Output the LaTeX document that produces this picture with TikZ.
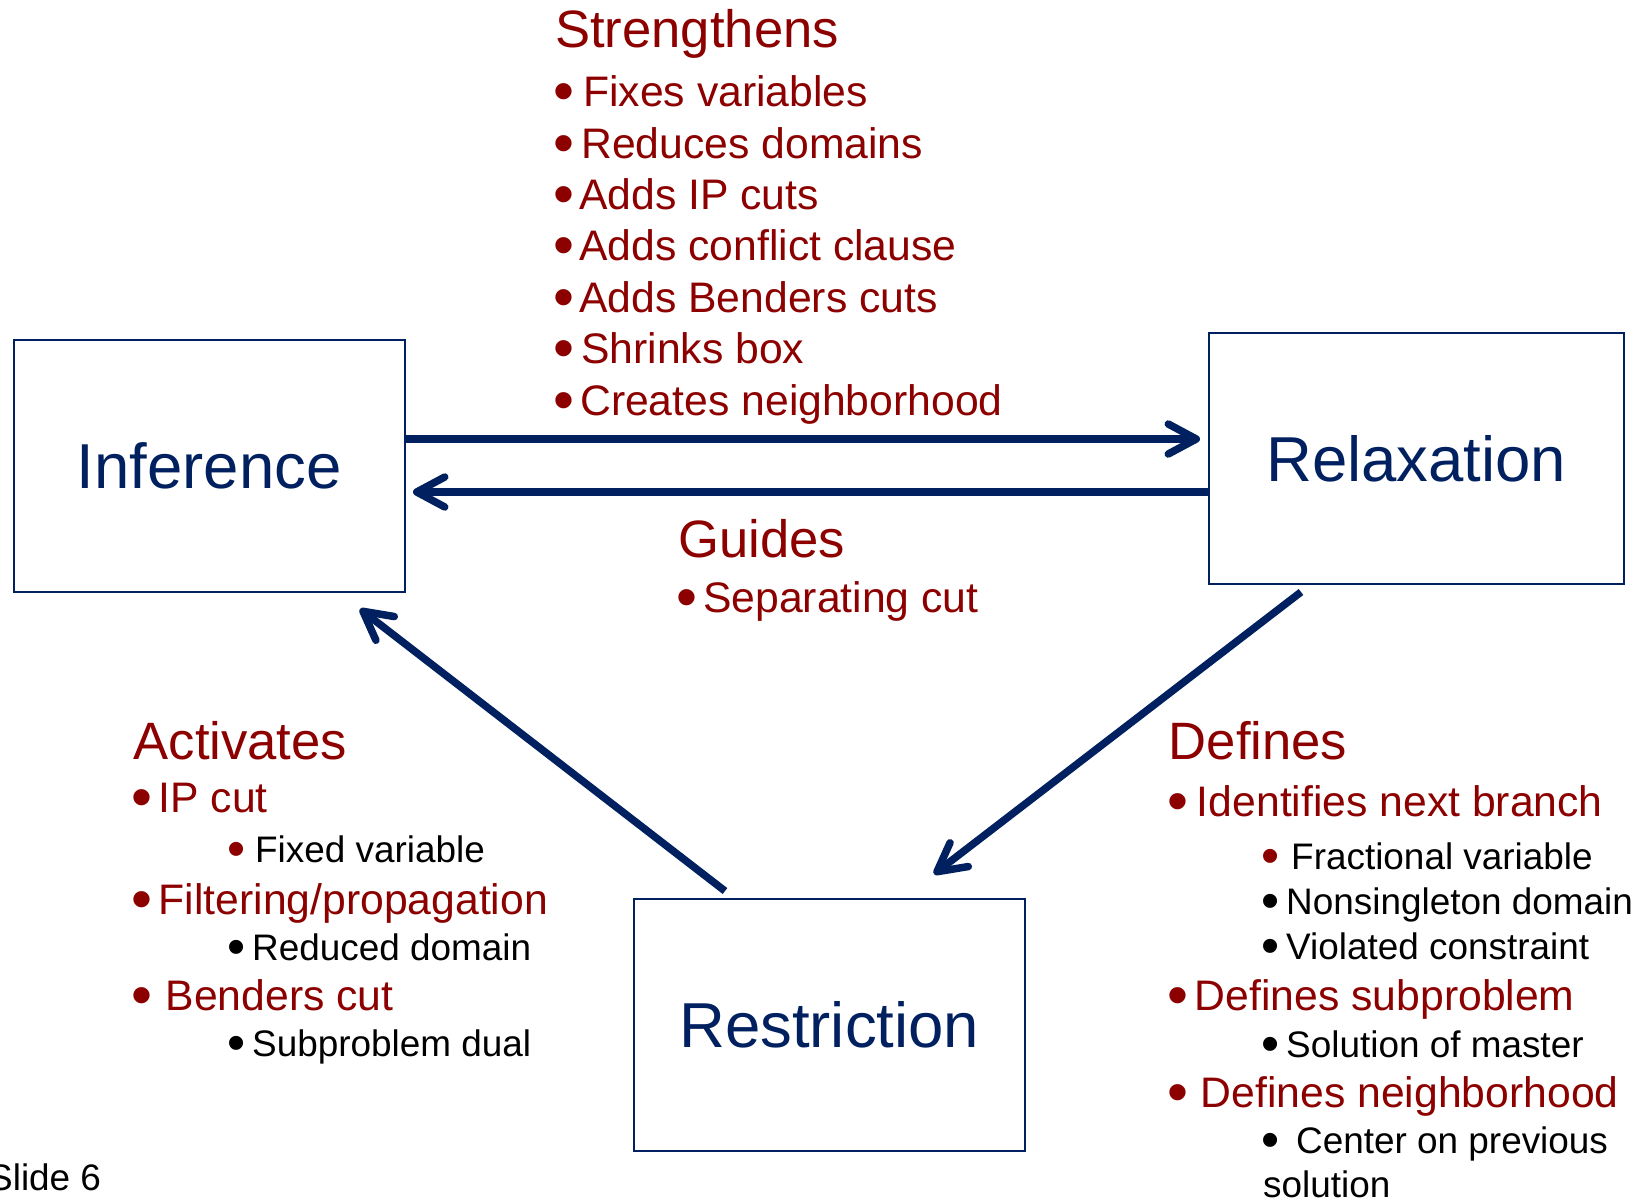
\documentclass[tikz,border=0pt]{standalone}
\usepackage{fontspec}
\setmainfont{Liberation Sans}
\usetikzlibrary{arrows.meta}
\definecolor{navy}{RGB}{0,32,96}
\definecolor{dred}{RGB}{140,0,0}
\newcommand\bul[1]{\makebox[#1pt][l]{\hspace{-0.04em}\raisebox{-0.12em}{\scalebox{1.4}{•}}}}
\tikzset{
 box/.style={draw=navy, line width=2.2pt, inner sep=0, text=navy, font=\fontsize{63.5}{70}\selectfont},
 head/.style={anchor=base west, inner sep=0, text=dred, font=\fontsize{52.6}{60}\selectfont},
 ritem/.style={anchor=base west, inner sep=0, text=dred, font=\fontsize{42.7}{50}\selectfont},
 bitem/.style={anchor=base west, inner sep=0, text=black, font=\fontsize{36.9}{44}\selectfont},
 conn/.style={draw=navy, line width=7.5pt, -{Straight Barb[length=28pt,width=30pt,line cap=round,line join=round]}},
}
\begin{document}
\begin{tikzpicture}[x=1pt,y=-1pt]
\useasboundingbox (0,0) rectangle (1648,1200);
% boxes
\node[box, minimum width=391pt, minimum height=252pt] (inf) at (209.2,465.6) {Inference};
\node[box, minimum width=415pt, minimum height=251pt] (rel) at (1416.2,458.7) {Relaxation};
\node[box, minimum width=391pt, minimum height=252pt] (res) at (829.2,1024.7) {Restriction};
% connectors
\coordinate (t1) at (1200,439);
\coordinate (t2) at (413,492);
\coordinate (d1s) at (1301,592);
\coordinate (d1e) at (934,874);
\coordinate (d2s) at (725,891);
\coordinate (d2e) at (360,609);
\draw[conn] (inf.east |- t1) -- (t1);
\draw[conn] (rel.west |- t2) -- (t2);
\draw[conn] (d1s) -- (d1e);
\draw[conn] (d2s) -- (d2e);
% Strengthens
\node[head] (sh) at (555,47.5) {Strengthens};
\node[ritem] (s1) at (555,106) {\bul{28}Fixes variables};
\node[ritem] (s2) at (555,158) {\bul{26}Reduces domains};
\node[ritem] (s3) at (555,209) {\bul{24}Adds IP cuts};
\node[ritem] (s4) at (555,260.5) {\bul{24}Adds conflict clause};
\node[ritem] (s5) at (555,312) {\bul{24}Adds Benders cuts};
\node[ritem] (s6) at (555,363.5) {\bul{26}Shrinks box};
\node[ritem] (s7) at (555,415) {\bul{25}Creates neighborhood};
% Guides
\node[head] (gh) at (678,557) {Guides};
\node[ritem] (g1) at (678,612) {\bul{25}Separating cut};
% Activates
\node[head] (ah) at (133.5,759) {Activates};
\node[ritem] (a1) at (133.5,812.5) {\bul{25}IP cut};
\node[bitem] (a2) at (229,862) {\textcolor{dred}{\bul{26}}Fixed variable};
\node[ritem] (a3) at (133.5,914) {\bul{25}Filtering/propagation};
\node[bitem] (a4) at (229,960) {\bul{23}Reduced domain};
\node[ritem] (a5) at (133.5,1010) {\bul{32}Benders cut};
\node[bitem] (a6) at (229,1056) {\bul{23}Subproblem dual};
% Defines
\node[head] (dh) at (1168.7,759) {Defines};
\node[ritem] (e1) at (1168.7,816.5) {\bul{28}Identifies next branch};
\node[bitem] (e2) at (1263,869) {\textcolor{dred}{\bul{28}}Fractional variable};
\node[bitem] (e3) at (1263,914) {\bul{23}Nonsingleton domain};
\node[bitem] (e4) at (1263,959.5) {\bul{23}Violated constraint};
\node[ritem] (e5) at (1168.7,1010) {\bul{26}Defines subproblem};
\node[bitem] (e6) at (1263,1057) {\bul{23}Solution of master};
\node[ritem] (e7) at (1168.7,1107) {\bul{32}Defines neighborhood};
\node[bitem] (e8) at (1263,1153) {\bul{33}Center on previous};
\node[bitem] (e9) at (1263,1197) {solution};
% slide number
\node[bitem] (sl) at (-12,1190) {Slide 6};
\end{tikzpicture}
\end{document}
